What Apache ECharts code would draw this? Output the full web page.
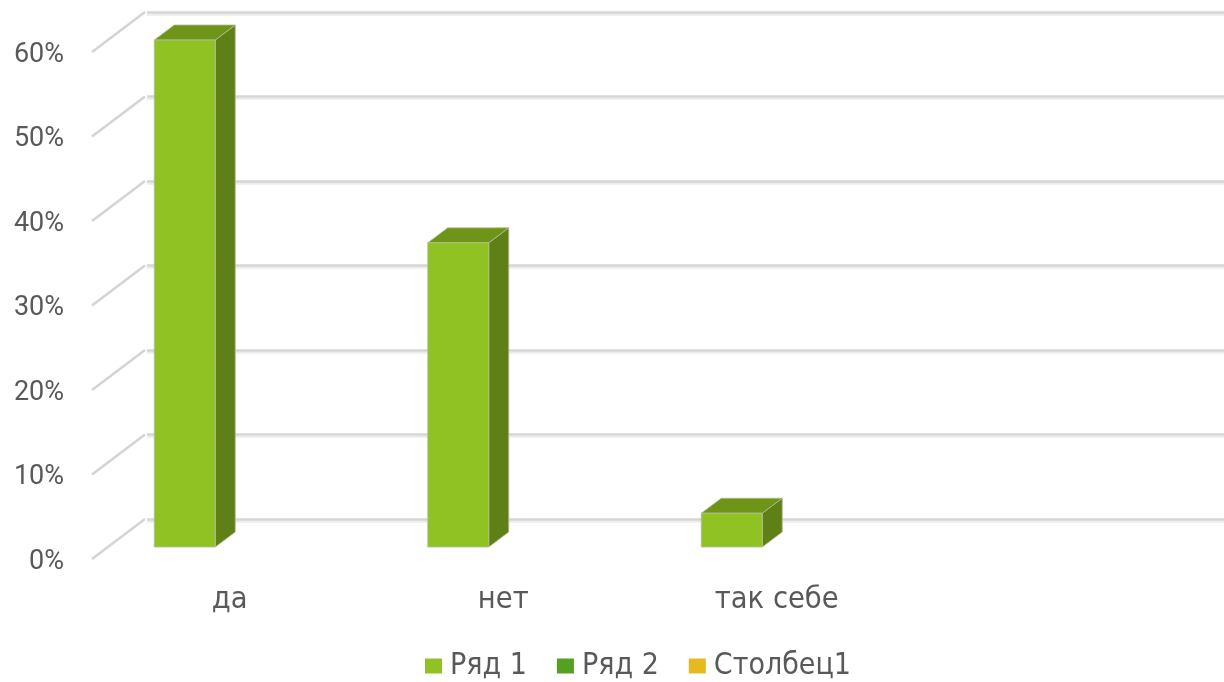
<!DOCTYPE html>
<html>
<head>
<meta charset="utf-8">
<style>
  html, body { margin: 0; padding: 0; background: #fff; }
  #chart { width: 1224px; height: 682px; }
</style>
</head>
<body>
<div id="chart"></div>
<script src="https://cdn.jsdelivr.net/npm/echarts@6/dist/echarts.min.js"></script>
<script>
// данные диаграммы
const categories = ['да', 'нет', 'так себе', ''];
const seriesNames = ['Ряд 1', 'Ряд 2', 'Столбец1'];
const row1 = [0.6, 0.36, 0.04];
const yTicks = [0, 0.1, 0.2, 0.3, 0.4, 0.5, 0.6];

const textColor = '#595959';
const fontFamily = '"DejaVu Sans Condensed", "DejaVu Sans", sans-serif';
const tickFont = 'Roboto, sans-serif';
const barWidth = 61;
const barDepth = [20, -15];
const wallDepth = [53, -40];
const wallShiftY = -3; // подписи чуть ниже начала диагоналей

const myChart = echarts.init(document.getElementById('chart'), null, { renderer: 'canvas' });

function yAxisBase(gridIndex, extra) {
  return Object.assign({
    type: 'value', gridIndex: gridIndex, min: 0, max: 0.6, interval: 0.1,
    axisLine: { show: false }, axisTick: { show: false },
    axisLabel: { show: false }, splitLine: { show: false }
  }, extra);
}

function xAxisBase(gridIndex, extra) {
  return Object.assign({
    type: 'category', gridIndex: gridIndex, data: categories,
    axisLine: { show: false }, axisTick: { show: false },
    axisLabel: { show: false }, splitLine: { show: false }
  }, extra);
}

// 3D столбик: передняя, верхняя и боковая грани
function renderBar(params, api) {
  const top = api.coord([api.value(0), api.value(1)]);
  const base = api.coord([api.value(0), 0]);
  const x0 = top[0] - barWidth / 2, x1 = top[0] + barWidth / 2;
  const dx = barDepth[0], dy = barDepth[1];
  const edge = { stroke: 'rgba(175,190,150,0.8)', lineWidth: 1 };
  return {
    type: 'group',
    children: [
      { type: 'polygon', shape: { points: [[x1, top[1]], [x1 + dx, top[1] + dy], [x1 + dx, base[1] + dy], [x1, base[1]]] },
        style: Object.assign({ fill: '#5e8016' }, edge) },
      { type: 'polygon', shape: { points: [[x0, top[1]], [x0 + dx, top[1] + dy], [x1 + dx, top[1] + dy], [x1, top[1]]] },
        style: Object.assign({ fill: '#6f9518' }, edge) },
      { type: 'rect', shape: { x: x0, y: top[1], width: barWidth, height: base[1] - top[1] },
        style: Object.assign({ fill: '#91c224' }, edge) }
    ]
  };
}

// диагонали пола/стены слева
function renderWallTick(params, api) {
  const p = api.coord([0, api.value(0)]);
  const x = params.coordSys.x - 1;
  const y = p[1] + wallShiftY;
  return {
    type: 'line',
    shape: { x1: x, y1: y, x2: x + wallDepth[0], y2: y + wallDepth[1] },
    style: { stroke: '#d4d4d4', lineWidth: 2.5 }
  };
}

const option = {
  backgroundColor: '#fff',
  animation: false,
  textStyle: { fontFamily: fontFamily },
  legend: {
    left: 420,
    top: 646,
    icon: 'rect',
    itemWidth: 17,
    itemHeight: 15,
    itemGap: 30,
    data: seriesNames,
    textStyle: { color: textColor, fontSize: 30, fontFamily: fontFamily, padding: [0, 0, 0, 3] }
  },
  grid: [
    { left: 93, top: 55, width: 1094, height: 507 },   // передняя плоскость: подписи
    { left: 147, top: 12, width: 1094, height: 507 },  // задняя стена: линии сетки
    { left: 48, top: 40, width: 1094, height: 507 }    // столбики
  ],
  xAxis: [
    xAxisBase(0, { axisLabel: { show: true, color: textColor, fontSize: 30.5, margin: 23, fontFamily: fontFamily, interval: 0 } }),
    xAxisBase(1),
    xAxisBase(2)
  ],
  yAxis: [
    yAxisBase(0, { axisLabel: { show: true, color: textColor, fontSize: 27, margin: 29, fontFamily: tickFont,
      formatter: (v) => Math.round(v * 100) + '%' } }),
    yAxisBase(1, { splitLine: { show: true, lineStyle: { color: '#d6d6d6', width: 2.5, shadowColor: '#ededed', shadowBlur: 0, shadowOffsetY: 2 } } }),
    yAxisBase(2)
  ],
  series: [
    {
      name: 'wall',
      type: 'custom',
      xAxisIndex: 0,
      yAxisIndex: 0,
      silent: true,
      clip: false,
      z: 1,
      encode: { y: 0 },
      data: yTicks.map((t) => [t]),
      renderItem: renderWallTick
    },
    {
      name: seriesNames[0],
      type: 'custom',
      xAxisIndex: 2,
      yAxisIndex: 2,
      clip: false,
      z: 3,
      itemStyle: { color: '#90c226' },
      encode: { x: 0, y: 1 },
      data: row1.map((v, i) => [i, v]),
      renderItem: renderBar
    },
    { name: seriesNames[1], type: 'bar', xAxisIndex: 2, yAxisIndex: 2, itemStyle: { color: '#54a021' }, data: [] },
    { name: seriesNames[2], type: 'bar', xAxisIndex: 2, yAxisIndex: 2, itemStyle: { color: '#e6b91e' }, data: [] }
  ]
};

myChart.setOption(option);
window.addEventListener('resize', () => { myChart.resize(); }, true);
</script>
</body>
</html>
